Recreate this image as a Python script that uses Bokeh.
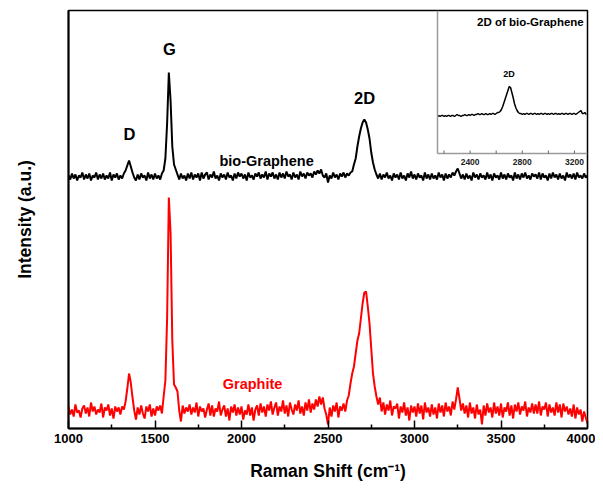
from bokeh.plotting import figure
from bokeh.models import Range1d, FixedTicker, Label
from bokeh.embed import file_html
from bokeh.resources import INLINE
from bokeh.core.properties import value

# ---------------- data ----------------
shift = list(range(1000, 4001, 10))  # Raman shift grid (cm-1)

graphite = [
    22, 14, 19, 12, 24, 16, 18, 11, 20, 23,
    15, 21, 12, 26, 17, 22, 14, 19, 16, 25,
    11, 21, 18, 24, 13, 20, 10, 22, 17, 21,
    14, 22, 19, 27, 40, 55, 46, 31, 18, 9,
    21, 14, 23, 15, 10, 22, 17, 24, 12, 20,
    13, 22, 18, 23, 15, 32, 48, 110, 231, 196,
    88, 44, 41, 37, 18, 7, 23, 15, 21, 17,
    24, 14, 21, 16, 26, 12, 22, 17, 20, 11,
    19, 25, 13, 23, 12, 20, 17, 27, 13, 19,
    23, 12, 20, 8, 22, 16, 24, 13, 21, 14,
    22, 9, 18, 14, 24, 13, 21, 8, 19, 23,
    13, 25, 16, 22, 12, 24, 18, 27, 14, 21,
    26, 13, 22, 17, 28, 15, 23, 12, 26, 19,
    14, 24, 18, 28, 15, 22, 13, 26, 18, 29,
    16, 25, 19, 29, 22, 32, 24, 31, 20, 14,
    4, 21, 12, 23, 17, 26, 11, 22, 18, 25,
    17, 28, 33, 45, 55, 62, 75, 88, 95, 110,
    125, 136, 137, 122, 105, 80, 55, 42, 32, 24,
    31, 17, 26, 14, 24, 18, 28, 13, 22, 20,
    25, 10, 22, 16, 26, 13, 21, 8, 23, 16,
    22, 12, 25, 15, 23, 9, 26, 16, 21, 12,
    24, 14, 21, 10, 25, 16, 23, 12, 26, 17,
    22, 13, 27, 19, 29, 41, 30, 18, 25, 15,
    23, 11, 26, 15, 21, 10, 24, 14, 19, 4,
    23, 13, 25, 16, 21, 11, 26, 15, 22, 13,
    25, 11, 21, 17, 26, 13, 23, 10, 24, 17,
    26, 14, 22, 18, 27, 12, 21, 16, 25, 15,
    24, 15, 27, 13, 22, 19, 26, 12, 24, 16,
    21, 13, 26, 16, 24, 11, 25, 17, 22, 14,
    20, 12, 24, 10, 21, 14, 19, 7, 17, 11,
    5,
]

bio_graphene = [
    253, 249, 255, 250, 254, 248, 253, 251, 256, 249,
    254, 250, 255, 248, 253, 251, 256, 249, 254, 250,
    255, 249, 253, 250, 256, 248, 254, 251, 255, 249,
    253, 250, 255, 258, 263, 268, 262, 256, 251, 248,
    254, 249, 255, 251, 253, 248, 256, 250, 254, 249,
    255, 250, 253, 249, 255, 258, 270, 305, 356, 328,
    282, 264, 259, 254, 249, 255, 250, 253, 248, 255,
    250, 256, 249, 254, 251, 255, 248, 256, 250, 254,
    256, 249, 254, 251, 257, 250, 253, 248, 255, 251,
    254, 249, 256, 251, 253, 248, 255, 250, 256, 252,
    255, 250, 254, 248, 256, 251, 253, 249, 255, 252,
    256, 250, 254, 251, 257, 249, 255, 252, 256, 250,
    254, 249, 256, 251, 255, 250, 257, 252, 254, 249,
    256, 251, 254, 249, 257, 252, 255, 250, 256, 253,
    255, 251, 257, 254, 258, 255, 259, 253, 251, 255,
    246, 253, 250, 256, 251, 254, 249, 255, 252, 256,
    251, 255, 253, 256, 257, 264, 270, 282, 292, 300,
    306, 309, 306, 299, 290, 276, 266, 259, 254, 250,
    255, 249, 254, 251, 256, 250, 253, 248, 255, 251,
    254, 249, 256, 250, 253, 248, 255, 251, 257, 250,
    254, 249, 255, 251, 253, 248, 256, 250, 254, 249,
    255, 250, 253, 249, 256, 251, 254, 248, 255, 250,
    254, 251, 256, 253, 257, 260, 255, 250, 254, 249,
    255, 250, 253, 248, 256, 251, 254, 249, 255, 251,
    253, 249, 256, 250, 254, 248, 255, 251, 253, 249,
    256, 250, 254, 249, 255, 251, 253, 248, 256, 250,
    254, 249, 255, 251, 256, 250, 253, 249, 255, 252,
    254, 250, 256, 249, 255, 251, 253, 248, 255, 250,
    256, 251, 254, 249, 255, 250, 253, 248, 256, 251,
    254, 250, 255, 249, 256, 251, 253, 250, 255, 251,
    253,
]

inset_shift = list(range(2150, 3291, 10))
inset_bio = [
    37, 38, 37, 38, 38, 37, 38, 37, 38, 38,
    37, 38, 38, 37, 38, 39, 38, 38, 37, 38,
    38, 39, 38, 38, 39, 38, 39, 39, 38, 39,
    39, 40, 39, 39, 40, 39, 39, 40, 39, 39,
    40, 39, 40, 40, 39, 40, 41, 41, 42, 44,
    47, 51, 55, 59, 63, 67, 66, 61, 56, 50,
    46, 43, 41, 40, 40, 39, 40, 39, 40, 40,
    39, 40, 40, 39, 40, 40, 39, 40, 39, 40,
    40, 39, 40, 40, 39, 40, 39, 40, 40, 39,
    40, 40, 39, 40, 39, 40, 40, 39, 40, 40,
    39, 40, 40, 39, 40, 40, 39, 40, 41, 42,
    43, 40, 40, 41, 39,
]

x_major_ticks = [1000, 1500, 2000, 2500, 3000, 3500, 4000]
x_minor_ticks = [1250, 1750, 2250, 2750, 3250, 3750]
inset_major_ticks = [2400, 2800, 3200]
inset_minor_ticks = [2200, 2600, 3000]

# ---------------- layout constants ----------------
FRAME_W, FRAME_H = 519, 418
BORDER_L, BORDER_T = 68, 10
WIDTH, HEIGHT = 595, 492
INSET_X0, INSET_X1 = 2150, 3300          # inset x data limits
INSET_LEFT_PX = 369                       # inset left edge, px from frame left
INSET_H_PX = 143                          # inset height, px from frame top

FONT = "Liberation Sans"

p = figure(width=WIDTH, height=HEIGHT,
           x_range=Range1d(1000, 4000), y_range=Range1d(0, FRAME_H),
           output_backend="svg", toolbar_location=None,
           min_border_left=BORDER_L, min_border_right=WIDTH - BORDER_L - FRAME_W,
           min_border_top=BORDER_T, min_border_bottom=HEIGHT - BORDER_T - FRAME_H)
p.background_fill_color = "white"
p.border_fill_color = "white"
p.xgrid.visible = False
p.ygrid.visible = False
p.outline_line_color = "black"
p.outline_line_width = 1.5

# inset ranges (pixel-aligned)
k = (INSET_X1 - INSET_X0) / (FRAME_W - INSET_LEFT_PX)
p.extra_x_ranges = {"ix": Range1d(INSET_X0 - INSET_LEFT_PX * k, INSET_X1)}
p.extra_y_ranges = {"iy": Range1d(-(FRAME_H - INSET_H_PX), INSET_H_PX)}

# x axis
xa = p.xaxis[0]
xa.ticker = FixedTicker(ticks=x_major_ticks, minor_ticks=x_minor_ticks)
xa.axis_line_width = 2
xa.axis_line_color = "black"
xa.major_tick_in = 8
xa.major_tick_out = 0
xa.minor_tick_in = 4
xa.minor_tick_out = 0
xa.major_tick_line_width = 1.5
xa.minor_tick_line_width = 1.5
xa.major_label_text_font = FONT
xa.major_label_text_font_style = "bold"
xa.major_label_text_font_size = "13px"
xa.major_label_text_color = "black"
xa.major_label_standoff = 5
xa.axis_label = "Raman Shift (cm⁻¹)"
xa.axis_label_text_font = FONT
xa.axis_label_text_font_style = "bold"
xa.axis_label_text_font_size = "17.5px"
xa.axis_label_text_color = "black"
xa.axis_label_standoff = 15

# y axis
ya = p.yaxis[0]
ya.ticker = FixedTicker(ticks=[])
ya.axis_line_width = 2
ya.axis_line_color = "black"
ya.major_tick_out = 0
ya.major_tick_in = 0
ya.minor_tick_out = 0
ya.minor_tick_in = 0
ya.axis_label = "Intensity (a.u.)"
ya.axis_label_text_font = FONT
ya.axis_label_text_font_style = "bold"
ya.axis_label_text_font_size = "17.5px"
ya.axis_label_text_color = "black"
ya.axis_label_standoff = 34

# spectra
p.line(shift, graphite, line_color="#ff0000", line_width=2)
p.line(shift, bio_graphene, line_color="black", line_width=2)

# inset spectrum and axes
p.line(inset_shift, inset_bio, line_color="black", line_width=1.5,
       x_range_name="ix", y_range_name="iy")
p.segment(x0=[INSET_X0, INSET_X0], y0=[0, 0], x1=[INSET_X0, INSET_X1], y1=[INSET_H_PX, 0],
          line_color="#9a9a9a", line_width=1.5, x_range_name="ix", y_range_name="iy")
all_inset_ticks = inset_major_ticks + inset_minor_ticks
p.segment(x0=all_inset_ticks, y0=[0] * len(all_inset_ticks),
          x1=all_inset_ticks, y1=[3] * len(all_inset_ticks),
          line_color="#666666", line_width=1, x_range_name="ix", y_range_name="iy")
p.text(x=inset_major_ticks, y=[-8] * len(inset_major_ticks),
       text=[str(t) for t in inset_major_ticks],
       text_font=value(FONT), text_font_style="bold", text_font_size="8.5px",
       text_align="center", text_baseline="middle", text_color="#222222",
       x_range_name="ix", y_range_name="iy")

# annotations
def lab(x, y, txt, size, color="black", xr="default", yr="default"):
    p.add_layout(Label(x=x, y=y, text=txt, text_font=FONT, text_font_style="bold",
                       text_font_size=size, text_color=color, text_align="center",
                       text_baseline="middle", x_range_name=xr, y_range_name=yr))

lab(1584, 380, "G", "16.5px")
lab(1353, 295, "D", "16.5px")
lab(2711, 331, "2D", "16.5px")
lab(2145, 268, "bio-Graphene", "14.5px")
lab(2064, 45, "Graphite", "14.5px", color="#ff0000")
lab(2862, 132, "2D of bio-Graphene", "11.5px", xr="ix", yr="iy")
lab(2698, 80, "2D", "9px", xr="ix", yr="iy")

open("out.html", "w").write(file_html(p, INLINE))
